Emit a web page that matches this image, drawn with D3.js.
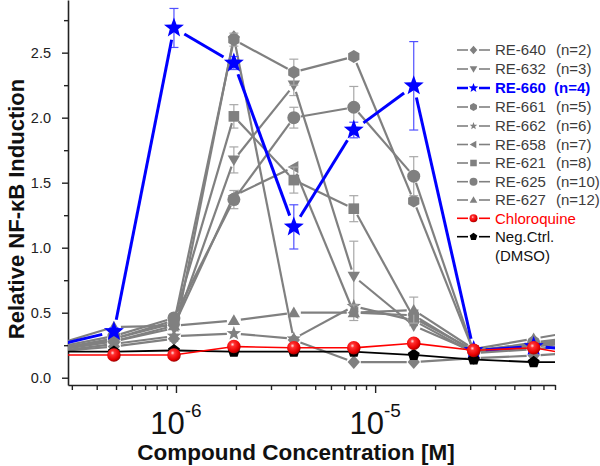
<!DOCTYPE html>
<html><head><meta charset="utf-8">
<script src="https://cdn.jsdelivr.net/npm/d3@7"></script>
<style>body{margin:0;background:#fff}svg{display:block;font-family:Arial,"Liberation Sans",sans-serif}</style>
</head><body><svg id="c" width="600" height="466"></svg>
<script>
// concentrations [M] (first and last lie outside the visible axis range)
const concentrations = [2.44e-7, 4.88e-7, 9.77e-7, 1.953e-6, 3.906e-6, 7.8125e-6, 1.5625e-5, 3.125e-5, 6.25e-5, 1.25e-4];
const re640 = [0.20, 0.24, 0.30, 2.62, 0.29, 0.12, 0.12, 0.15, 0.17, 0.20];
const re632 = [0.22, 0.28, 0.38, 1.675, 2.25, 0.78, 0.40, 0.20, 0.25, 0.32];
const re660 = [0.245, 0.355, 2.69, 2.42, 1.16, 1.905, 2.245, 0.21, 0.24, 0.21];
const re661 = [0.21, 0.30, 0.42, 2.60, 2.35, 2.47, 1.36, 0.20, 0.24, 0.28];
const re662 = [0.20, 0.26, 0.32, 0.34, 0.30, 0.55, 0.44, 0.19, 0.22, 0.26];
const re658 = [0.21, 0.28, 0.40, 1.40, 1.62, 0.50, 0.48, 0.20, 0.25, 0.30];
const re621 = [0.22, 0.30, 0.44, 2.01, 1.52, 1.30, 0.46, 0.21, 0.26, 0.31];
const re625 = [0.23, 0.32, 0.46, 1.37, 2.00, 2.08, 1.55, 0.20, 0.27, 0.33];
const re627 = [0.25, 0.39, 0.40, 0.44, 0.50, 0.50, 0.52, 0.22, 0.30, 0.38];
const chloroquine = [0.175, 0.175, 0.175, 0.24, 0.23, 0.23, 0.265, 0.21, 0.23, 0.15];
const negCtrl = [0.20, 0.20, 0.21, 0.20, 0.20, 0.20, 0.175, 0.14, 0.12, 0.12];
// error bars
const err660 = [0, 0.03, 0.15, 0.05, 0.17, 0.06, 0.34, 0, 0, 0];
const err661 = [0, 0, 0, 0.05, 0.10, 0, 0, 0, 0, 0];
const err621 = [0, 0, 0, 0.09, 0.10, 0.10, 0, 0, 0, 0];
const err625 = [0, 0, 0, 0.07, 0.08, 0.16, 0.15, 0, 0, 0];
const err632 = [0, 0, 0, 0.10, 0.08, 0.27, 0, 0, 0, 0];
const err627 = [0, 0, 0, 0, 0, 0.06, 0.10, 0, 0, 0];

const seriesNames = ["RE-640","RE-632","RE-660","RE-661","RE-662","RE-658","RE-621","RE-625","RE-627","Chloroquine","Neg.Ctrl."];
const seriesN = ["(n=2)","(n=3)","(n=4)","(n=5)","(n=6)","(n=7)","(n=8)","(n=10)","(n=12)","",""];
const yTickValues = [0, 0.5, 1.0, 1.5, 2.0, 2.5];
const yMinorValues = [0.25, 0.75, 1.25, 1.75, 2.25, 2.75];
const xTickExponents = [-6, -5];
const xMinorValues = [3e-7,4e-7,5e-7,6e-7,7e-7,8e-7,9e-7,2e-6,3e-6,4e-6,5e-6,6e-6,7e-6,8e-6,9e-6,2e-5,3e-5,4e-5,5e-5,6e-5,7e-5,8e-5];
const yTitle = "Relative NF-\u03baB Induction";
const xTitle = "Compound Concentration [M]";

const series = [
  {name:seriesNames[0], n:seriesN[0], v:re640, e:null,   shape:"diamond", kind:"gray"},
  {name:seriesNames[1], n:seriesN[1], v:re632, e:err632, shape:"tridown", kind:"gray"},
  {name:seriesNames[3], n:seriesN[3], v:re661, e:err661, shape:"hexagon", kind:"gray"},
  {name:seriesNames[4], n:seriesN[4], v:re662, e:null,   shape:"star",    kind:"gray"},
  {name:seriesNames[5], n:seriesN[5], v:re658, e:null,   shape:"trileft", kind:"gray"},
  {name:seriesNames[6], n:seriesN[6], v:re621, e:err621, shape:"square",  kind:"gray"},
  {name:seriesNames[7], n:seriesN[7], v:re625, e:err625, shape:"circle",  kind:"gray"},
  {name:seriesNames[8], n:seriesN[8], v:re627, e:err627, shape:"triup",   kind:"gray"},
  {name:seriesNames[2], n:seriesN[2], v:re660, e:err660, shape:"star",    kind:"blue"},
  {name:seriesNames[10], n:"", v:negCtrl, e:null, shape:"pentagon", kind:"black"},
  {name:seriesNames[9], n:"", v:chloroquine, e:null, shape:"sphere", kind:"red"}
];
const legendOrder = [0,1,8,2,3,4,5,6,7,10,9];

const styles = {
  gray:{stroke:"#808080", w:2.2, fill:"#808080", r:6.5, gap:7, eb:"#a8a8a8"},
  blue:{stroke:"#0000ff", w:3, fill:"#0000ff", r:10.5, gap:12, eb:"#5050ff"},
  red:{stroke:"#ff0000", w:1.6, fill:"url(#sph)", r:6.8, gap:3, eb:"#f00"},
  black:{stroke:"#000", w:1.8, fill:"#000", r:6.3, gap:3, eb:"#000"}
};

function poly(pts){ return "M" + pts.map(p=>p[0].toFixed(2)+","+p[1].toFixed(2)).join("L") + "Z"; }
function regular(n, r, start){ const p=[]; for(let i=0;i<n;i++){ const a=(start+i*360/n)*Math.PI/180; p.push([r*Math.cos(a), r*Math.sin(a)]);} return p; }
function shapePath(type, r){
  switch(type){
    case "circle": case "sphere": return d3.arc()({innerRadius:0, outerRadius:r, startAngle:0, endAngle:2*Math.PI});
    case "square": { const s=r*0.82; return poly([[-s,-s],[s,-s],[s,s],[-s,s]]); }
    case "diamond": return poly([[0,-r*1.05],[r*0.95,0],[0,r*1.05],[-r*0.95,0]]);
    case "triup": return poly(regular(3, r*1.1, -90).map(p=>[p[0],p[1]+r*0.15]));
    case "tridown": return poly(regular(3, r*1.1, 90).map(p=>[p[0],p[1]-r*0.15]));
    case "trileft": return poly(regular(3, r*1.1, 180).map(p=>[p[0]+r*0.15,p[1]]));
    case "hexagon": return poly(regular(6, r, -90));
    case "pentagon": return poly(regular(5, r, -90));
    case "star": { const p=[]; for(let i=0;i<10;i++){ const rr = i%2? r*0.42 : r; const a=(-90+i*36)*Math.PI/180; p.push([rr*Math.cos(a), rr*Math.sin(a)]);} return poly(p); }
  }
}

const svg = d3.select("#c");
const defs = svg.append("defs");
const g = defs.append("radialGradient").attr("id","sph").attr("cx","0.4").attr("cy","0.35").attr("r","0.7");
g.append("stop").attr("offset","0").attr("stop-color","#ffe0e0");
g.append("stop").attr("offset","0.22").attr("stop-color","#ff3030");
g.append("stop").attr("offset","0.7").attr("stop-color","#e80000");
g.append("stop").attr("offset","1").attr("stop-color","#8a0000");

const L=68, R=555, T=0, B=385;
defs.append("clipPath").attr("id","clip").append("rect").attr("x",L).attr("y",T).attr("width",R-L).attr("height",B-T);

const x = d3.scaleLog().domain([2.87e-7, 8.0e-5]).range([L, R]);
const y = d3.scaleLinear().domain([-0.056, 2.905]).range([B, T]);

// axes
const axisColor = "#222";
const ya = svg.append("g").attr("transform",`translate(${L},0)`)
  .call(d3.axisLeft(y).tickValues(yTickValues).tickSize(6).tickSizeOuter(0).tickFormat(d3.format(".1f")));
svg.append("g").attr("transform",`translate(${L},0)`)
  .call(d3.axisLeft(y).tickValues(yMinorValues).tickSize(4).tickSizeOuter(0).tickFormat(""))
  .select(".domain").remove();
ya.select(".domain").attr("stroke",axisColor).attr("stroke-width",1.6);
ya.selectAll(".tick line").attr("stroke",axisColor).attr("stroke-width",1.4);
svg.selectAll(".tick line").attr("stroke",axisColor).attr("stroke-width",1.4);
ya.selectAll(".tick text").attr("font-size",14.5).attr("fill","#222").attr("font-family","Arial, 'Liberation Sans', sans-serif").attr("x",-17);

const xa = svg.append("g").attr("transform",`translate(0,${B})`)
  .call(d3.axisBottom(x).tickValues(xTickExponents.map(e=>Math.pow(10,e))).tickSize(8).tickSizeOuter(0).tickFormat(""));
const xm = svg.append("g").attr("transform",`translate(0,${B})`)
  .call(d3.axisBottom(x).tickValues(xMinorValues).tickSize(5).tickSizeOuter(0).tickFormat(""));
xm.select(".domain").remove();
xa.select(".domain").attr("stroke",axisColor).attr("stroke-width",1.6);
svg.selectAll(".tick line").attr("stroke",axisColor).attr("stroke-width",1.4);

xTickExponents.forEach(e=>{
  const t = svg.append("text").attr("x", x(Math.pow(10,e))).attr("y", 434).attr("text-anchor","middle").attr("fill","#111");
  t.append("tspan").attr("font-size",31).text("10");
  t.append("tspan").attr("font-size",19).attr("dy",-17).text("-" + Math.abs(e));
});

svg.append("text").attr("x",296).attr("y",460).attr("text-anchor","middle").attr("font-size",22.5).attr("font-weight","bold").attr("fill","#111").text(xTitle);
svg.append("text").attr("transform","translate(24,209) rotate(-90)").attr("text-anchor","middle").attr("font-size",22).attr("font-weight","bold").attr("fill","#111").text(yTitle);

// data
const plot = svg.append("g").attr("clip-path","url(#clip)");
function drawSeries(s){
  const st = styles[s.kind];
  const gg = plot.append("g");
  const pts = s.v.map((v,i)=>[x(concentrations[i]), y(v)]);
  if(s.e){
    s.e.forEach((ev,i)=>{
      if(!ev) return;
      const px=pts[i][0], y1=y(s.v[i]+ev), y2=y(s.v[i]-ev);
      gg.append("line").attr("x1",px).attr("x2",px).attr("y1",y1).attr("y2",y2).attr("stroke",st.eb).attr("stroke-width",1.2);
      [y1,y2].forEach(yy=>gg.append("line").attr("x1",px-4.5).attr("x2",px+4.5).attr("y1",yy).attr("y2",yy).attr("stroke",st.eb).attr("stroke-width",1.2));
    });
  }
  for(let i=0;i<pts.length-1;i++){
    const [x1,y1]=pts[i], [x2,y2]=pts[i+1];
    const d=Math.hypot(x2-x1,y2-y1); if(d<2*st.gap) continue;
    const ux=(x2-x1)/d, uy=(y2-y1)/d;
    gg.append("line").attr("x1",x1+ux*st.gap).attr("y1",y1+uy*st.gap).attr("x2",x2-ux*st.gap).attr("y2",y2-uy*st.gap)
      .attr("stroke",st.stroke).attr("stroke-width",st.w).attr("stroke-linecap","butt");
  }
  const r = (s.kind==="gray" && s.shape==="star") ? 7.5 : st.r;
  pts.forEach(p=>{
    gg.append("path").attr("d",shapePath(s.shape,r)).attr("transform",`translate(${p[0]},${p[1]})`).attr("fill",st.fill);
  });
}
series.forEach(drawSeries);

// legend
const lg = svg.append("g");
const rowY = [50, 69, 88, 107, 126, 144.5, 163, 181.7, 200, 218.3, 236.7];
legendOrder.forEach((si,k)=>{
  const s = series[si]; const st = styles[s.kind]; const yy=rowY[k];
  const col = s.kind==="gray" ? "#3c3c3c" : (s.kind==="blue" ? "#0000ff" : (s.kind==="red" ? "#ff0000" : "#111"));
  const lw = s.kind==="blue" ? 2.5 : 1.6;
  lg.append("line").attr("x1",457).attr("x2",468).attr("y1",yy).attr("y2",yy).attr("stroke",st.stroke).attr("stroke-width",lw);
  lg.append("line").attr("x1",479).attr("x2",490).attr("y1",yy).attr("y2",yy).attr("stroke",st.stroke).attr("stroke-width",lw);
  const mr = s.kind==="blue" ? 5 : 4;
  lg.append("path").attr("d",shapePath(s.shape,mr)).attr("transform",`translate(473.5,${yy})`).attr("fill",st.fill);
  const bold = s.kind==="blue";
  lg.append("text").attr("x",495).attr("y",yy+5.3).attr("font-size",15).attr("fill",col).attr("font-weight",bold?"bold":"normal").text(s.name);
  if(s.n) lg.append("text").attr("x",bold?554:556).attr("y",yy+5.3).attr("font-size",15).attr("fill",col).attr("font-weight",bold?"bold":"normal").text(s.n);
});
lg.append("text").attr("x",495).attr("y",256+5.3).attr("font-size",15).attr("fill","#111").text("(DMSO)");
</script></body></html>
